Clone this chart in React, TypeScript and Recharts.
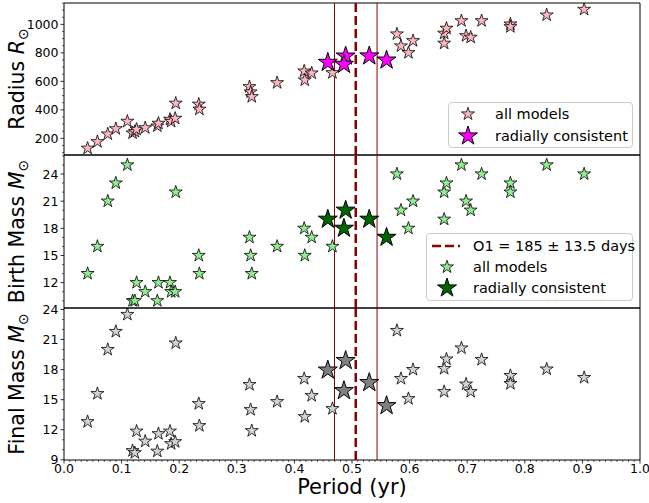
import React from 'react';
import { ScatterChart, Scatter, XAxis, YAxis, ReferenceLine, ReferenceArea, Legend } from 'recharts';

const FONT = '"DejaVu Sans", sans-serif';

// O1 period +/- error, in years (185 +/- 13.5 days)
const o1Period = 0.5065;
const o1Low = 0.4696;
const o1High = 0.5435;

// all models
const allPeriod = [0.041, 0.058, 0.076, 0.09, 0.11, 0.119, 0.123, 0.126, 0.141, 0.162, 0.164, 0.184, 0.186, 0.193, 0.194, 0.234, 0.235, 0.322, 0.324, 0.326, 0.37, 0.417, 0.418, 0.43, 0.466, 0.578, 0.585, 0.598, 0.606, 0.66, 0.66, 0.664, 0.69, 0.698, 0.706, 0.725, 0.775, 0.775, 0.838, 0.903];
const allRadius = [130, 176, 230, 267, 319, 237, 248, 263, 274, 286, 305, 333, 318, 340, 446, 439, 404, 562, 525, 492, 590, 672, 609, 658, 660, 932, 848, 801, 885, 867, 937, 972, 1025, 920, 909, 1025, 1002, 983, 1065, 1105];
const allBirthMass = [13, 16, 21, 23, 25, 10, 10, 12, 11, 10, 12, 12, 11, 11, 22, 15, 13, 17, 15, 13, 16, 18, 15, 17, 16, 24, 20, 18, 21, 19, 22, 23, 25, 21, 20, 24, 23, 22, 25, 24];
const allFinalMass = [12.8, 15.6, 20.0, 21.8, 23.5, 9.9, 9.7, 11.85, 10.85, 9.85, 11.6, 11.85, 10.6, 10.8, 20.65, 14.6, 12.4, 16.5, 14.0, 11.9, 14.8, 17.1, 13.3, 15.4, 14.1, 21.9, 17.1, 15.1, 18.0, 15.8, 18.1, 19.05, 20.15, 16.55, 15.8, 19.0, 17.4, 16.6, 18.05, 17.2];

// radially consistent models
const rcPeriod = [0.458, 0.489, 0.486, 0.53, 0.56];
const rcRadius = [733, 777, 719, 778, 749];
const rcBirthMass = [19, 20, 18, 19, 17];
const rcFinalMass = [17.95, 18.9, 15.9, 16.7, 14.4];

// ticks
const xMajor = [0, 0.1, 0.2, 0.3, 0.4, 0.5, 0.6, 0.7, 0.8, 0.9, 1.0];
const radiusMajor = [200, 400, 600, 800, 1000];
const birthMajor = [12, 15, 18, 21, 24];
const finalMajor = [9, 12, 15, 18, 21, 24];

const steps = (a: number, b: number, s: number) => {
  const out: number[] = [];
  for (let v = a; v <= b + 1e-9; v += s) out.push(Math.round(v * 1000) / 1000);
  return out;
};
const xTicks = steps(0, 1, 0.01);
const radiusTicks = steps(100, 1150, 50);
const birthTicks = steps(10, 26, 1);
const finalTicks = steps(9, 24, 1);

const isMajor = (list: number[], v: number) => list.some((m) => Math.abs(m - v) < 1e-6);

function starPath(cx: number, cy: number, r: number) {
  const pts: string[] = [];
  for (let i = 0; i < 10; i++) {
    const rad = i % 2 === 0 ? r : r * 0.381966;
    const a = -Math.PI / 2 + (i * Math.PI) / 5;
    pts.push(`${(cx + rad * Math.cos(a)).toFixed(2)},${(cy + rad * Math.sin(a)).toFixed(2)}`);
  }
  return 'M' + pts.join('L') + 'Z';
}

const Star = ({ cx, cy, r, fill }: any) => (
  <path d={starPath(cx, cy, r)} fill={fill} stroke="#000" strokeWidth={r > 8 ? 1 : 0.8} strokeLinejoin="miter" />
);

const YTick = (props: any) => {
  const { x, y, payload, majors } = props;
  const major = isMajor(majors, payload.value);
  return (
    <g>
      <line x1={x} x2={x - (major ? 3.5 : 2)} y1={y} y2={y} stroke="#000" strokeWidth={major ? 0.8 : 0.6} />
      {major && (
        <text x={x - 5.5} y={y} dy="0.36em" textAnchor="end" fontSize={12.5} fontFamily={FONT} fill="#000">
          {payload.value}
        </text>
      )}
    </g>
  );
};

const XTick = (props: any) => {
  const { x, y, payload } = props;
  const major = isMajor(xMajor, payload.value);
  return (
    <g>
      <line x1={x} x2={x} y1={y} y2={y + (major ? 3.5 : 2)} stroke="#000" strokeWidth={major ? 0.8 : 0.6} />
      {major && (
        <text x={x} y={y + 13} textAnchor="middle" fontSize={12.5} fontFamily={FONT} fill="#000">
          {payload.value.toFixed(1)}
        </text>
      )}
    </g>
  );
};

const YTitle = ({ viewBox, name, sym }: any) => {
  const cy = viewBox.y + viewBox.height / 2;
  const x = 24;
  return (
    <text x={x} y={cy} transform={`rotate(-90 ${x} ${cy})`} textAnchor="middle" fontSize={20.5} fontFamily={FONT} fill="#000">
      {name} <tspan fontStyle="italic">{sym}</tspan>
      <tspan fontSize={14} dy={4}>⊙</tspan>
    </text>
  );
};

const legendBox = (w: number, h: number): React.CSSProperties => ({
  position: 'relative',
  width: w,
  height: h,
  boxSizing: 'border-box',
  border: '1px solid #cccccc',
  borderRadius: 4,
  background: 'rgba(255,255,255,0.8)',
  fontFamily: FONT,
  fontSize: 14.5,
  color: '#000',
});

const LegendRow = ({ cy, left, children, icon }: any) => (
  <>
    <svg style={{ position: 'absolute', left: 0, top: cy - 12 }} width={40} height={24}>
      {icon}
    </svg>
    <span style={{ position: 'absolute', left, top: cy - 9, lineHeight: '18px', whiteSpace: 'nowrap' }}>{children}</span>
  </>
);

const makeLegend = (small: string, big: string, withO1: boolean) => () => {
  if (!withO1) {
    return (
      <div style={legendBox(185, 46)}>
        <LegendRow cy={11} left={46} icon={<Star cx={19} cy={12} r={6.8} fill={small} />}>all models</LegendRow>
        <LegendRow cy={33} left={46} icon={<Star cx={19} cy={12} r={10} fill={big} />}>radially consistent</LegendRow>
      </div>
    );
  }
  return (
    <div style={legendBox(207, 68)}>
      <LegendRow cy={12} left={46} icon={<line x1={5} x2={33} y1={12} y2={12} stroke="#8B0000" strokeWidth={2.5} strokeDasharray="9 4" />}>
        O1 = 185 ± 13.5 days
      </LegendRow>
      <LegendRow cy={33} left={46} icon={<Star cx={20} cy={12} r={6.8} fill={small} />}>all models</LegendRow>
      <LegendRow cy={54} left={46} icon={<Star cx={20} cy={12} r={10} fill={big} />}>radially consistent</LegendRow>
    </div>
  );
};

type PanelProps = {
  top: number;
  height: number;
  margin: { top: number; right: number; bottom: number; left: number };
  domain: [number, number];
  ticks: number[];
  majors: number[];
  values: number[];
  rcValues: number[];
  small: string;
  big: string;
  name: string;
  sym: string;
  legend?: { left: number; top: number; o1: boolean };
  showX?: boolean;
};

function Panel(p: PanelProps) {
  const all = allPeriod.map((x, i) => ({ x, y: p.values[i] }));
  const rc = rcPeriod.map((x, i) => ({ x, y: p.rcValues[i] }));
  return (
    <div style={{ position: 'absolute', left: 0, top: p.top }}>
      <ScatterChart width={649} height={p.height} margin={p.margin}>
        <XAxis
          type="number"
          dataKey="x"
          domain={[0, 1]}
          allowDataOverflow
          hide={!p.showX}
          ticks={xTicks}
          interval={0}
          tickSize={0}
          tickMargin={0}
          tickLine={false}
          axisLine={false}
          tick={(t: any) => <XTick {...t} />}
          height={43}
          label={(l: any) => (
            <text x={l.viewBox.x + l.viewBox.width / 2} y={l.viewBox.y + 34} textAnchor="middle" fontSize={21} fontFamily={FONT} fill="#000">
              Period (yr)
            </text>
          )}
        />
        <YAxis
          type="number"
          dataKey="y"
          domain={p.domain}
          allowDataOverflow
          ticks={p.ticks}
          interval={0}
          width={64}
          tickSize={0}
          tickMargin={0}
          tickLine={false}
          axisLine={false}
          tick={(t: any) => <YTick {...t} majors={p.majors} />}
          label={(l: any) => <YTitle viewBox={l.viewBox} name={p.name} sym={p.sym} />}
        />
        <ReferenceArea x1={0} x2={1} y1={p.domain[0]} y2={p.domain[1]} fill="none" stroke="#000" strokeWidth={1} />
        <Scatter data={all} isAnimationActive={false} shape={(s: any) => <Star cx={s.cx} cy={s.cy} r={6.8} fill={p.small} />} />
        <Scatter data={rc} isAnimationActive={false} shape={(s: any) => <Star cx={s.cx} cy={s.cy} r={10} fill={p.big} />} />
        <ReferenceLine x={o1Low} stroke="#8B0000" strokeWidth={1} />
        <ReferenceLine x={o1High} stroke="#8B0000" strokeWidth={1} />
        <ReferenceLine x={o1Period} stroke="#8B0000" strokeWidth={2.5} strokeDasharray="9 4" />
        {p.legend && (
          <Legend
            layout="vertical"
            align="center"
            verticalAlign="middle"
            content={makeLegend(p.small, p.big, p.legend.o1)}
            wrapperStyle={{ left: p.legend.left, top: p.legend.top, width: 'auto' }}
          />
        )}
      </ScatterChart>
    </div>
  );
}

export default function App() {
  return (
    <div style={{ position: 'absolute', left: 0, top: 0, width: 649, height: 503, background: '#fff' }}>
      <Panel
        top={0}
        height={158}
        margin={{ top: 3, right: 9, bottom: 3, left: 0 }}
        domain={[83, 1150]}
        ticks={radiusTicks}
        majors={radiusMajor}
        values={allRadius}
        rcValues={rcRadius}
        small="#FFB6C1"
        big="#FF00FF"
        name="Radius"
        sym="R"
        legend={{ left: 448, top: 102, o1: false }}
      />
      <Panel
        top={152}
        height={159}
        margin={{ top: 3, right: 9, bottom: 3, left: 0 }}
        domain={[9.2, 26.1]}
        ticks={birthTicks}
        majors={birthMajor}
        values={allBirthMass}
        rcValues={rcBirthMass}
        small="#90EE90"
        big="#006400"
        name="Birth Mass"
        sym="M"
        legend={{ left: 426, top: 81, o1: true }}
      />
      <Panel
        top={298}
        height={205}
        margin={{ top: 10, right: 9, bottom: 0, left: 0 }}
        domain={[8.98, 24.15]}
        ticks={finalTicks}
        majors={finalMajor}
        values={allFinalMass}
        rcValues={rcFinalMass}
        small="#D3D3D3"
        big="#808080"
        name="Final Mass"
        sym="M"
        showX
      />
    </div>
  );
}
